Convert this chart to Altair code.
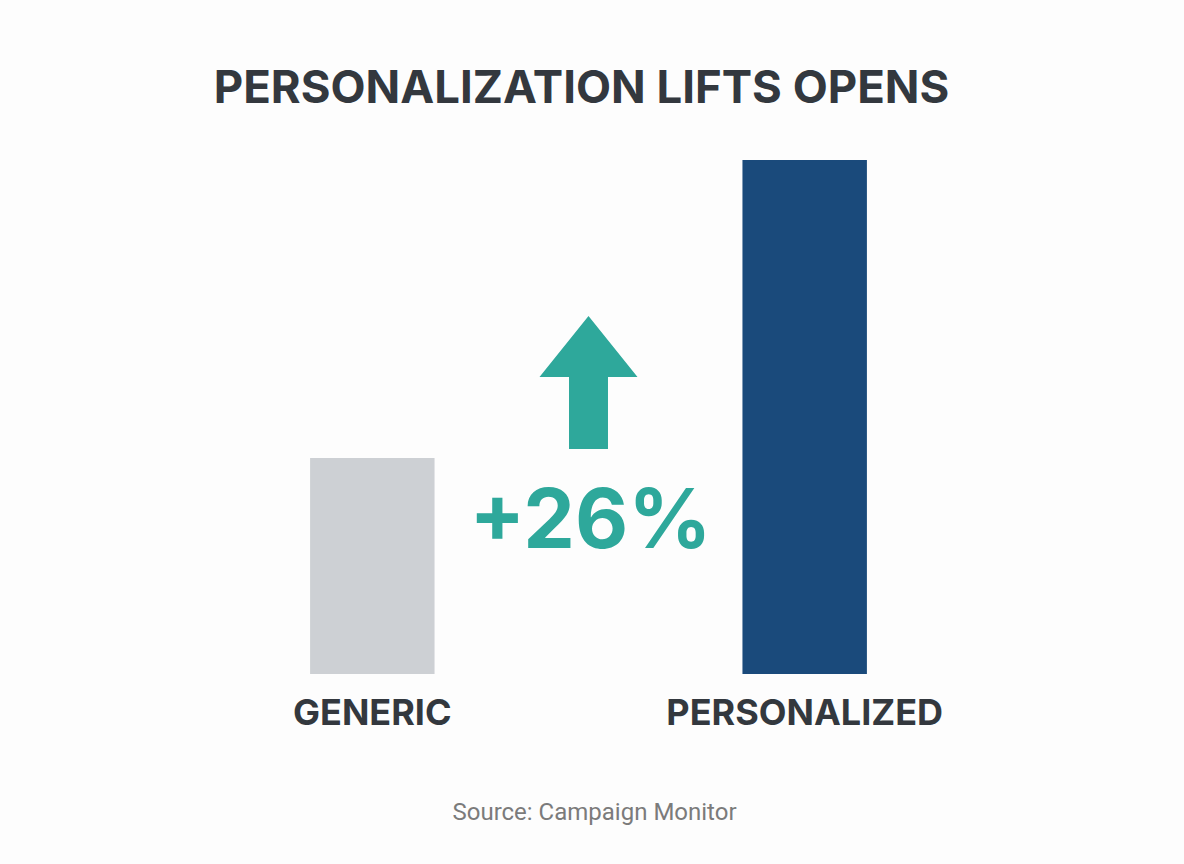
import altair as alt
import pandas as pd

# ---- data ----
categories = ["GENERIC", "PERSONALIZED"]
open_rate_index = [42, 100]          # relative open rate (personalized = 100)
lift_slot = ["LIFT"]                 # middle slot that carries the annotation
lift_label = ["+26%"]
lift_label_level = [24.5]            # annotation placement on the value scale
lift_arrow_level = [56.7]
chart_title = "PERSONALIZATION LIFTS OPENS"
source_note = "Source: Campaign Monitor"

bars_df = pd.DataFrame({"group": categories, "value": open_rate_index})
label_df = pd.DataFrame({"group": lift_slot, "value": lift_label_level, "text": lift_label})
arrow_df = pd.DataFrame({"group": lift_slot, "value": lift_arrow_level})

FONT = "Inter"
DARK = "#33383e"
TEAL = "#2ea89b"

x_scale = alt.Scale(domain=[categories[0], lift_slot[0], categories[1]],
                    paddingInner=0.4243, paddingOuter=0.5)
y_scale = alt.Scale(domain=[0, 100], nice=False, zero=True)

x_enc = alt.X(
    "group:N", scale=x_scale, sort=None,
    axis=alt.Axis(
        title=source_note,
        titleFont="Roboto", titleFontSize=24, titleFontWeight="normal", titleColor="#7b7b7b",
        titleX=392, titleY=126, titleAlign="center", titleBaseline="top", titleAngle=0,
        labelExpr="datum.value == 'LIFT' ? '' : datum.value",
        labelFont=FONT, labelFontSize=36, labelFontWeight="bold", labelColor=DARK,
        labelAngle=0, labelPadding=22, labelLimit=0, ticks=False, tickSize=0,
        domain=False, grid=False,
    ),
)
y_enc = alt.Y("value:Q", scale=y_scale, axis=None)

bars = alt.Chart(bars_df).mark_bar().encode(
    x=x_enc,
    y=y_enc,
    color=alt.Color("group:N", scale=alt.Scale(domain=categories, range=["#cdd0d4", "#1a4a7b"]),
                    legend=None),
)

arrow_path = "M0,-1 L0.737,-0.083 L0.293,-0.083 L0.293,1 L-0.293,1 L-0.293,-0.083 L-0.737,-0.083 Z"
arrow = alt.Chart(arrow_df).mark_point(
    shape=arrow_path, filled=True, size=17689, color=TEAL, opacity=1, strokeWidth=0
).encode(x=x_enc, y=y_enc)

label = alt.Chart(label_df).mark_text(
    font=FONT, fontSize=82, fontWeight="bold", color=TEAL, baseline="alphabetic", align="center", dx=2
).encode(x=x_enc, y=y_enc, text="text:N")

chart = alt.layer(bars, arrow, label).properties(
    width=773,
    height=514,
    title=alt.Title(chart_title, font=FONT, fontSize=45.5, fontWeight="bold", color=DARK,
                    anchor="middle", offset=48, dx=-7),
    autosize=alt.AutoSizeParams(type="none"),
    padding={"left": 202, "top": 160, "right": 209, "bottom": 190},
    background="#fdfdfd",
).configure_view(stroke=None)

chart.save("out.html", embed_options={"renderer": "svg", "actions": False})
